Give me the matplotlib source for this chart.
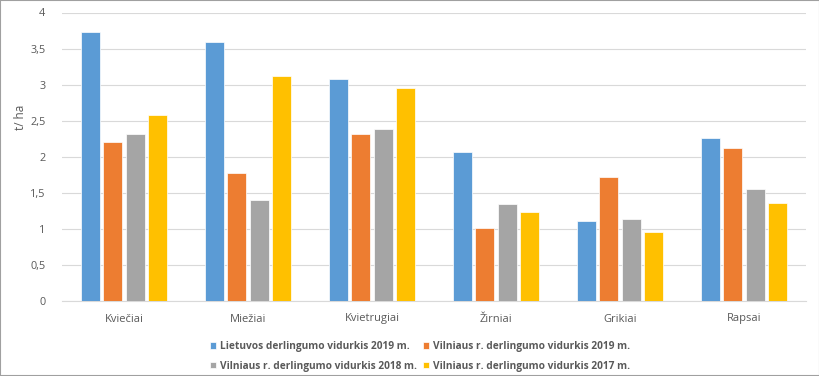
import matplotlib
matplotlib.use("Agg")
import matplotlib.pyplot as plt
import numpy as np
from matplotlib.patches import Rectangle

categories = ["Kviečiai", "Miežiai", "Kvietrugiai", "Žirniai", "Grikiai", "Rapsai"]
series_names = [
    "Lietuvos derlingumo vidurkis 2019 m.",
    "Vilniaus r. derlingumo vidurkis 2019 m.",
    "Vilniaus r. derlingumo vidurkis 2018 m.",
    "Vilniaus r. derlingumo vidurkis 2017 m.",
]
lt_2019 = [3.73, 3.59, 3.08, 2.07, 1.11, 2.26]
vln_2019 = [2.20, 1.77, 2.32, 1.01, 1.72, 2.12]
vln_2018 = [2.31, 1.40, 2.38, 1.34, 1.13, 1.55]
vln_2017 = [2.58, 3.12, 2.95, 1.23, 0.96, 1.36]
yticks = [0, 0.5, 1, 1.5, 2, 2.5, 3, 3.5, 4]
ytick_labels = ["0", "0,5", "1", "1,5", "2", "2,5", "3", "3,5", "4"]
y_label = "t/ ha"

colors = ["#5B9BD5", "#ED7D31", "#A5A5A5", "#FFC000"]
text_color = "#595959"
plt.rcParams["font.family"] = ["Open Sans", "DejaVu Sans"]

fig = plt.figure(figsize=(8.2, 3.76), dpi=100)
ax = fig.add_axes([62 / 820, 1 - 301 / 376, (806 - 62) / 820, (301 - 12.5) / 376])

data = [lt_2019, vln_2019, vln_2018, vln_2017]
x = np.arange(len(categories))
step = 0.181
width = 0.15
handles = []
for i, (vals, c, name) in enumerate(zip(data, colors, series_names)):
    off = (i - 1.5) * step
    b = ax.bar(x + off, vals, width=width, color=c, edgecolor="white", linewidth=0.5, label=name, zorder=3)
    handles.append(b)

ax.set_xlim(-0.5, len(categories) - 0.5)
ax.set_ylim(0, 4)
ax.set_yticks(yticks)
ax.set_yticklabels(ytick_labels)
ax.set_xticks(x)
ax.set_xticklabels(categories)
ax.tick_params(axis="both", length=0, colors=text_color, labelsize=8)
ax.tick_params(axis="x", pad=9)
ax.tick_params(axis="y", pad=12, labelsize=7.8)
ax.grid(axis="y", color="#d9d9d9", linewidth=0.8, zorder=0)
for s in ["top", "right", "left"]:
    ax.spines[s].set_visible(False)
ax.spines["bottom"].set_color("#d9d9d9")
ax.spines["bottom"].set_linewidth(0.8)
ax.set_ylabel(y_label, color=text_color, fontsize=8.5)
ax.yaxis.set_label_coords(-35 / 744, 0.635)

# row-major order: matplotlib fills legend columns first
order = [0, 2, 1, 3]
leg = fig.legend(handles=[handles[i] for i in order], labels=[series_names[i] for i in order],
                 ncol=2, loc="upper left",
                 bbox_to_anchor=(201 / 820, 1 - 332 / 376), frameon=False,
                 prop={"weight": "bold", "size": 7.3}, handlelength=0.6, handleheight=0.6,
                 handletextpad=0.4, columnspacing=0.6, labelspacing=0.85,
                 labelcolor=text_color)

fig.patches.append(Rectangle((0, 0), 1, 1, transform=fig.transFigure, fill=False,
                             edgecolor="#a0a0a0", linewidth=1.5))
fig.savefig("out.png", dpi=100)
